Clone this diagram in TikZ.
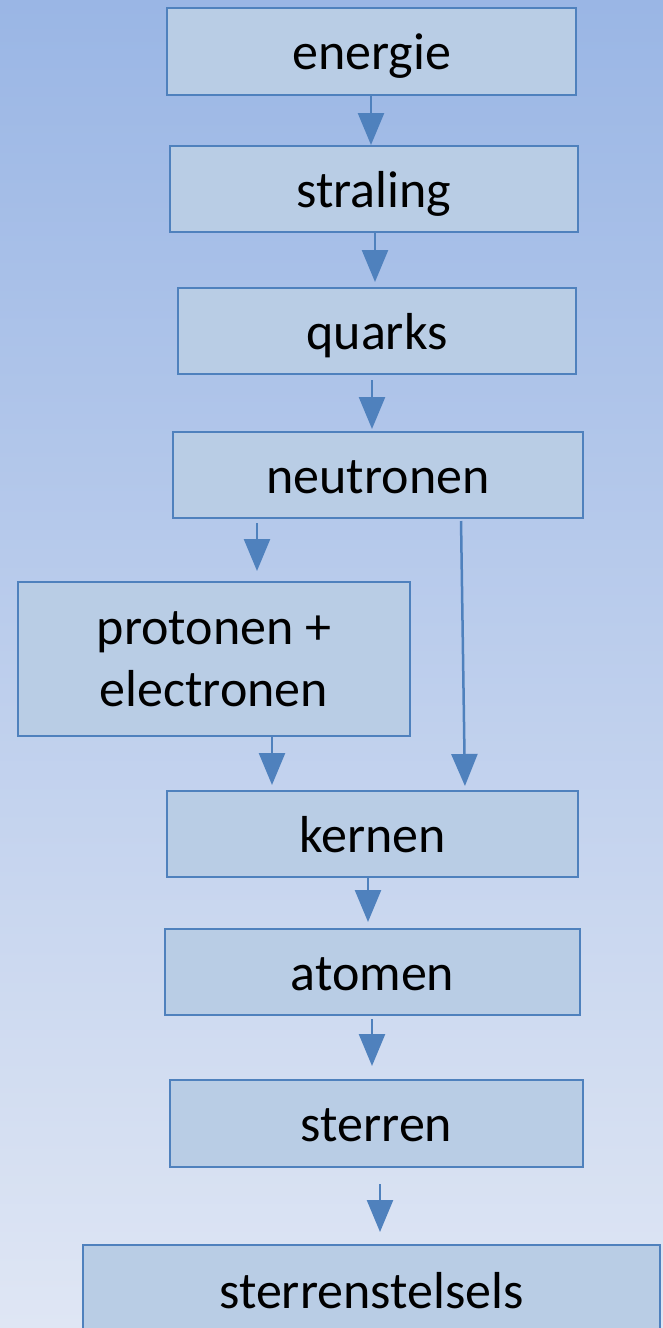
\documentclass[tikz,border=0pt]{standalone}
\usepackage{fontspec}
\setmainfont{Carlito}
\usetikzlibrary{arrows.meta}
\definecolor{bgtop}{HTML}{9AB6E5}
\definecolor{bgbot}{HTML}{DFE6F4}
\definecolor{boxfill}{HTML}{B9CDE5}
\definecolor{boxline}{HTML}{4F81BD}
\tikzset{
  stepbox/.style={draw=boxline, fill=boxfill, line width=2pt, inner sep=0pt,
    font=\fontsize{52}{62}\selectfont, align=center},
  oneline/.style={stepbox, text height=36pt, text depth=0pt},
  arr/.style={draw=boxline, line width=2.5pt, -{Triangle[width=26pt,length=32pt]}}
}
\begin{document}
\begin{tikzpicture}[x=1pt,y=-1pt]
\useasboundingbox (0,0) rectangle (663,1328);
\shade[top color=bgtop, bottom color=bgbot] (0,0) rectangle (663,1328);
\node[oneline, minimum width=409pt, minimum height=87pt] (energie) at (371.5,51.5) {energie};
\node[oneline, minimum width=408pt, minimum height=86pt] (straling) at (374,189) {straling};
\node[oneline, minimum width=398pt, minimum height=86pt] (quarks) at (377,331) {quarks};
\node[oneline, minimum width=410pt, minimum height=86pt] (neutronen) at (378,475) {neutronen};
\node[stepbox, minimum width=392pt, minimum height=154pt] (protonen) at (214,659) {protonen +\\electronen};
\node[oneline, minimum width=411pt, minimum height=86pt] (kernen) at (372.5,834) {kernen};
\node[oneline, minimum width=415pt, minimum height=86pt] (atomen) at (372.5,972) {atomen};
\node[oneline, minimum width=413pt, minimum height=87pt] (sterren) at (376.5,1123.5) {sterren};
\node[oneline, minimum width=577pt, minimum height=90pt] (stelsels) at (371.5,1290) {sterrenstelsels};

\draw[arr] ([xshift=-0.5pt]energie.south) -- ([xshift=-3pt]straling.north);
\draw[arr, shorten >=5pt] ([xshift=1pt]straling.south) -- ([xshift=-2pt]quarks.north);
\draw[arr, shorten <=5pt, shorten >=2pt] ([xshift=-5pt]quarks.south) -- ([xshift=-6pt]neutronen.north);
\draw[arr, shorten <=4pt, shorten >=10pt] ([xshift=-121pt]neutronen.south) -- ([xshift=43pt]protonen.north);
\draw[arr, shorten <=2pt, shorten >=4pt] ([xshift=83pt]neutronen.south) -- ([xshift=92.5pt]kernen.north);
\draw[arr, shorten >=5pt] ([xshift=58pt]protonen.south) -- ([xshift=-100.5pt]kernen.north);
\draw[arr, shorten >=6pt] ([xshift=-4.5pt]kernen.south) -- ([xshift=-4.5pt]atomen.north);
\draw[arr, shorten <=3pt, shorten >=13pt] ([xshift=-0.5pt]atomen.south) -- ([xshift=-4.5pt]sterren.north);
\draw[arr, shorten <=16pt, shorten >=12pt] ([xshift=3.5pt]sterren.south) -- ([xshift=8.5pt]stelsels.north);
\end{tikzpicture}
\end{document}
